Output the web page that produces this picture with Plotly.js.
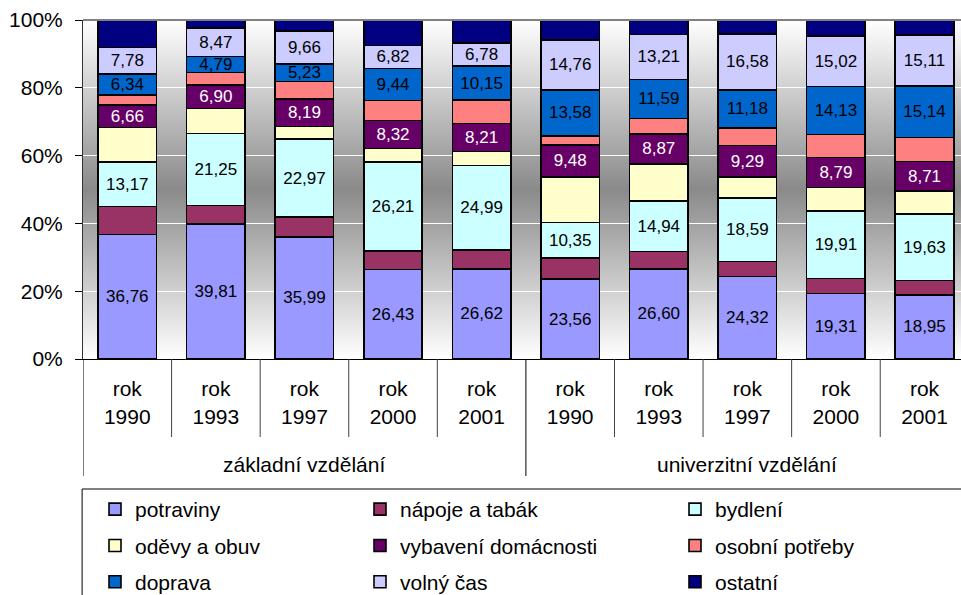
<!DOCTYPE html>
<html>
<head>
<meta charset="utf-8">
<script src="https://cdn.plot.ly/plotly-3.0.1.min.js"></script>
<style>
html,body{margin:0;padding:0;background:#fff;}
#chart{width:961px;height:595px;}
</style>
</head>
<body>
<div id="chart"></div>
<script>
// ---- data ----
const groups = ['základní vzdělání', 'univerzitní vzdělání'];
const years = ['1990', '1993', '1997', '2000', '2001'];
const seriesNames = ['potraviny', 'nápoje a tabák', 'bydlení', 'oděvy a obuv', 'vybavení domácnosti', 'osobní potřeby', 'doprava', 'volný čas', 'ostatní'];
const potraviny = [36.76, 39.81, 35.99, 26.43, 26.62, 23.56, 26.60, 24.32, 19.31, 18.95];
const napojeATabak = [8.2, 5.5, 5.9, 5.5, 5.5, 6.3, 5.1, 4.5, 4.4, 4.15];
const bydleni = [13.17, 21.25, 22.97, 26.21, 24.99, 10.35, 14.94, 18.59, 19.91, 19.63];
const odevyAObuv = [10.2, 7.3, 3.7, 3.9, 4.1, 13.5, 10.9, 6.3, 7.0, 6.8];
const vybaveniDomacnosti = [6.66, 6.90, 8.19, 8.32, 8.21, 9.48, 8.87, 9.29, 8.79, 8.71];
const osobniPotreby = [2.8, 3.7, 5.1, 5.9, 6.9, 2.6, 4.5, 5.2, 6.8, 7.1];
const doprava = [6.34, 4.79, 5.23, 9.44, 10.15, 13.58, 11.59, 11.18, 14.13, 15.14];
const volnyCas = [7.78, 8.47, 9.66, 6.82, 6.78, 14.76, 13.21, 16.58, 15.02, 15.11];
const ostatni = [8.1, 2.3, 3.3, 7.5, 6.8, 5.9, 4.3, 4.1, 4.7, 4.4];
const yTickVals = [0, 20, 40, 60, 80, 100];

// ---- styling ----
const seriesValues = [potraviny, napojeATabak, bydleni, odevyAObuv, vybaveniDomacnosti, osobniPotreby, doprava, volnyCas, ostatni];
const colors = ['#9999FF', '#993366', '#CCFFFF', '#FFFFCC', '#660066', '#FF8080', '#0066CC', '#CCCCFF', '#000080'];
const labelled = [true, false, true, false, true, false, true, true, false];
const textColors = ['#000', '#000', '#000', '#000', '#fff', '#000', '#000', '#000', '#000'];
const FONT = 'Liberation Sans, Arial, Helvetica, sans-serif';

const catKeys = [];
const tickText = [];
groups.forEach(g => years.forEach(y => { catKeys.push(g + ' ' + y); tickText.push('rok<br>' + y); }));

const legendIds = ['legend', 'legend2', 'legend3'];
const traces = seriesNames.map((name, i) => ({
  type: 'bar',
  name: name,
  x: catKeys,
  y: seriesValues[i],
  legend: legendIds[i % 3],
  legendgroup: name,
  marker: {color: colors[i], line: {color: '#000', width: 1.6}},
  texttemplate: labelled[i] ? '%{y:.2f}' : '',
  textposition: labelled[i] ? 'inside' : 'none',
  insidetextanchor: 'middle',
  textangle: 0,
  constraintext: 'none',
  insidetextfont: {family: FONT, size: 17, color: textColors[i]},
  hoverinfo: 'name+y'
}));

// background gradient image
const svg = '<svg xmlns="http://www.w3.org/2000/svg" width="10" height="100" preserveAspectRatio="none">' +
  '<defs><linearGradient id="g" x1="0" y1="0" x2="0" y2="1">' +
  '<stop offset="0" stop-color="#ffffff"/><stop offset="0.5" stop-color="#8a8a8a"/><stop offset="1" stop-color="#ffffff"/>' +
  '</linearGradient></defs><rect width="10" height="100" fill="url(#g)"/></svg>';
const bgSrc = 'data:image/svg+xml;charset=utf-8,' + encodeURIComponent(svg);

// plot geometry helpers (paper units)
const plotTopPx = 20, plotBottomPx = 359, plotH = plotBottomPx - plotTopPx;
const pyp = px => (plotBottomPx - px) / plotH;

const shapes = [];
// category dividers below the axis
catKeys.forEach((k, i) => {
  const isGroupEdge = (i % years.length === 0);
  shapes.push({type: 'line', xref: 'x', yref: 'paper', x0: i - 0.5, x1: i - 0.5,
    y0: 0, y1: isGroupEdge ? pyp(476) : pyp(437),
    line: {color: isGroupEdge ? '#000' : '#404040', width: 1}});
});
// plot top border
shapes.push({type: 'line', xref: 'paper', yref: 'paper', x0: 0, x1: 1, y0: 1, y1: 1, line: {color: '#808080', width: 2}});
// legend box
shapes.push({type: 'line', xref: 'paper', yref: 'paper', x0: -0.001, x1: 1.05, y0: pyp(489), y1: pyp(489), line: {color: '#808080', width: 2}});
shapes.push({type: 'line', xref: 'paper', yref: 'paper', x0: -0.001, x1: -0.001, y0: pyp(489), y1: pyp(640), line: {color: '#000', width: 1}});

const annotations = groups.map((g, gi) => ({
  xref: 'x', yref: 'paper', x: gi * years.length + (years.length - 1) / 2, y: pyp(464),
  text: g, showarrow: false, xanchor: 'center', yanchor: 'middle',
  font: {family: FONT, size: 21, color: '#000'}
}));

const legendBase = {
  orientation: 'v', xanchor: 'left', yanchor: 'top', y: pyp(489),
  bgcolor: 'rgba(0,0,0,0)', borderwidth: 0,
  font: {family: FONT, size: 21, color: '#000'},
  traceorder: 'grouped', tracegroupgap: 6, itemwidth: 30
};
const plotW = 961 - 83;
const pxp = px => (px - 83) / plotW;

const layout = {
  width: 961, height: 595,
  margin: {l: 83, r: 0, t: 20, b: 236, pad: 0, autoexpand: false},
  paper_bgcolor: '#ffffff',
  plot_bgcolor: 'rgba(0,0,0,0)',
  barmode: 'stack',
  bargap: 0.34,
  separators: ', ',
  font: {family: FONT, size: 21, color: '#000'},
  showlegend: true,
  xaxis: {
    type: 'category',
    range: [-0.5, 9.412],
    tickvals: catKeys, ticktext: tickText,
    ticks: '', showline: true, linecolor: '#000', linewidth: 1,
    showgrid: false, zeroline: false,
    tickfont: {family: FONT, size: 21, color: '#000'},
    ticklabelstandoff: 11,
    automargin: false,
    fixedrange: true
  },
  yaxis: {
    range: [0, 100],
    tickvals: yTickVals, ticktext: yTickVals.map(v => v + '%'),
    ticks: 'outside', ticklen: 7, tickcolor: '#000', tickwidth: 1,
    showline: true, linecolor: '#333', linewidth: 1,
    showgrid: true, gridcolor: '#ffffff', gridwidth: 1,
    zeroline: false,
    tickfont: {family: FONT, size: 21, color: '#000'},
    ticklabelstandoff: 8,
    automargin: false,
    fixedrange: true
  },
  images: [{source: bgSrc, xref: 'paper', yref: 'paper', x: 0, y: 1, sizex: 1, sizey: 1,
    sizing: 'stretch', xanchor: 'left', yanchor: 'top', layer: 'below'}],
  shapes: shapes,
  annotations: annotations,
  legend: Object.assign({}, legendBase, {x: pxp(95)}),
  legend2: Object.assign({}, legendBase, {x: pxp(360)}),
  legend3: Object.assign({}, legendBase, {x: pxp(675)})
};

Plotly.newPlot('chart', traces, layout, {displayModeBar: false, staticPlot: true});
</script>
</body>
</html>
